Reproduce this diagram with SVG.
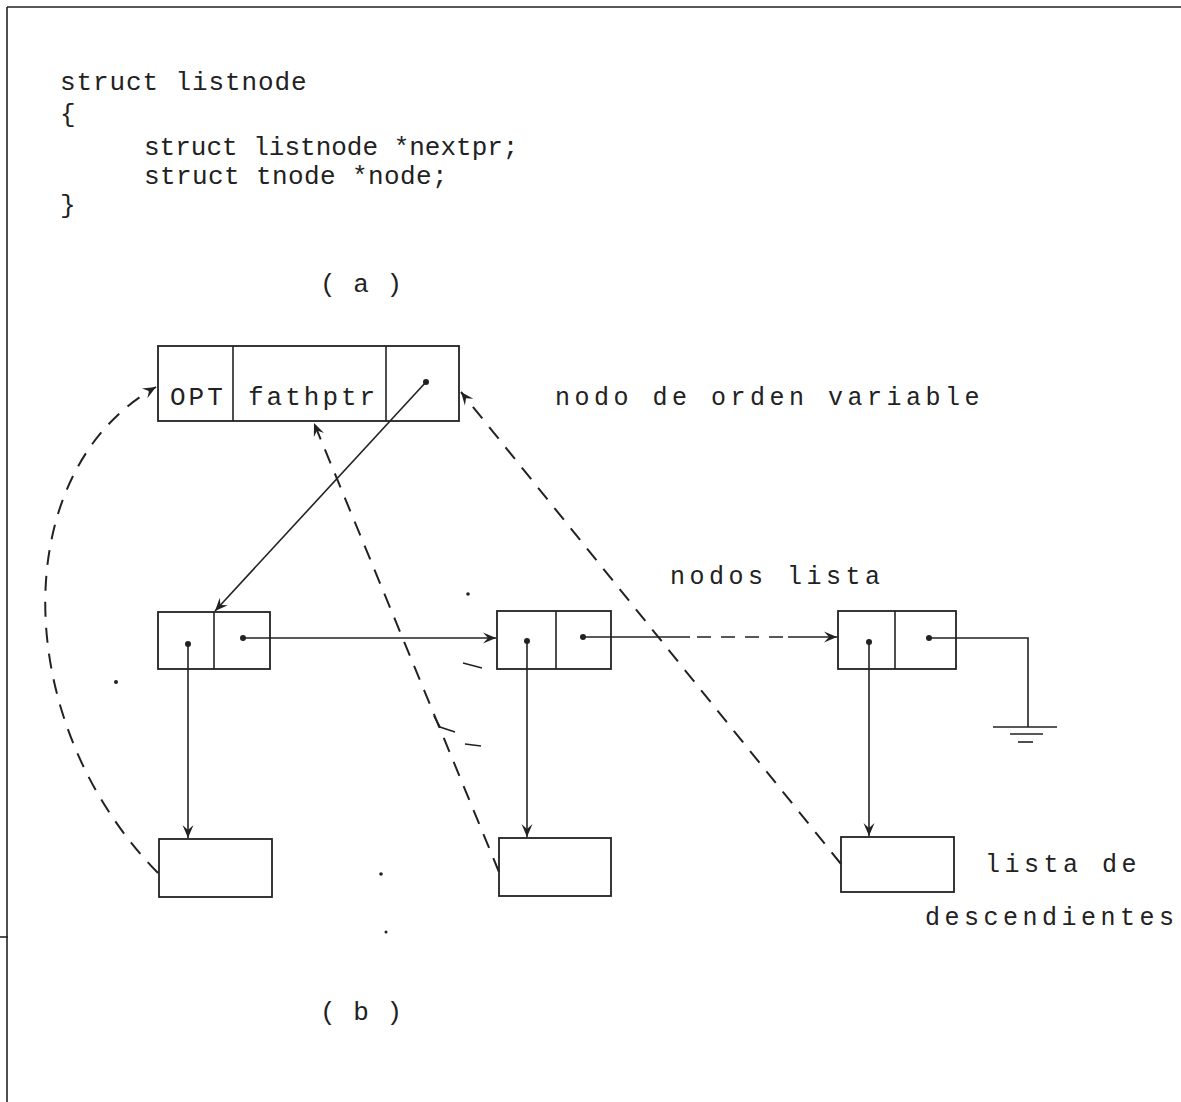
<svg xmlns="http://www.w3.org/2000/svg" width="1181" height="1102" viewBox="0 0 1181 1102">
<defs>
<style>
.code{font-family:"Liberation Mono","DejaVu Sans Mono",monospace;font-size:26px;fill:#222}
.lbl{font-family:"Liberation Mono","DejaVu Sans Mono",monospace;font-size:25px;fill:#222;letter-spacing:4.5px}
.cell{font-family:"Liberation Mono","DejaVu Sans Mono",monospace;font-size:26px;fill:#222;letter-spacing:3px}
.box{fill:#fff;stroke:#222;stroke-width:1.8}
.ln{fill:none;stroke:#222;stroke-width:1.6}
.dash{fill:none;stroke:#222;stroke-width:2;stroke-dasharray:15 11}
.dot{fill:#222}
</style>
<marker id="ah" viewBox="-14 -7 16 14" refX="0" refY="0" markerWidth="16" markerHeight="14" markerUnits="userSpaceOnUse" orient="auto">
<path d="M0,0 L-13,-5.5 L-8,0 L-13,5.5 Z" fill="#222"/>
</marker>
</defs>
<rect width="1181" height="1102" fill="#fff"/>
<g id="border">
<line x1="7" y1="7" x2="1181" y2="7" class="ln" stroke-width="1.4"/>
<line x1="7" y1="7" x2="7" y2="1102" class="ln" stroke-width="2"/>
<line x1="0" y1="937" x2="8" y2="937" class="ln" stroke-width="2"/>
</g>
<g id="code">
<text class="code" x="60" y="90" letter-spacing="0.9">struct listnode</text>
<text class="code" x="60" y="122">{</text>
<text class="code" x="144" y="155" letter-spacing="0">struct listnode *nextpr;</text>
<text class="code" x="144" y="184" letter-spacing="0.4">struct tnode *node;</text>
<text class="code" x="60" y="213">}</text>
<text class="code" x="320" y="292" letter-spacing="1">( a )</text>
</g>
<g id="node-var">
<rect class="box" x="158" y="346" width="301" height="75"/>
<line class="ln" x1="233" y1="346" x2="233" y2="421"/>
<line class="ln" x1="386" y1="346" x2="386" y2="421"/>
<text class="cell" x="170" y="405">OPT</text>
<text class="cell" x="248" y="405">fathptr</text>
<circle class="dot" cx="426" cy="382" r="3"/>
</g>
<g id="label-var"><text class="lbl" x="555" y="405">nodo de orden variable</text></g>
<g id="label-list"><text class="lbl" x="670" y="584">nodos lista</text></g>
<g id="list1">
<rect class="box" x="158" y="612" width="112" height="57"/>
<line class="ln" x1="214" y1="612" x2="214" y2="669"/>
<circle class="dot" cx="188" cy="644" r="3"/>
<circle class="dot" cx="243" cy="638" r="3"/>
</g>
<g id="list2">
<rect class="box" x="497" y="611" width="114" height="58"/>
<line class="ln" x1="556" y1="611" x2="556" y2="669"/>
<circle class="dot" cx="527" cy="641" r="3"/>
<circle class="dot" cx="583" cy="637" r="3"/>
</g>
<g id="list3">
<rect class="box" x="838" y="611" width="118" height="58"/>
<line class="ln" x1="895" y1="611" x2="895" y2="669"/>
<circle class="dot" cx="869" cy="642" r="3"/>
<circle class="dot" cx="929" cy="638" r="3"/>
</g>
<g id="desc1"><rect class="box" x="159" y="839" width="113" height="58"/></g>
<g id="desc2"><rect class="box" x="499" y="838" width="112" height="58"/></g>
<g id="desc3"><rect class="box" x="841" y="837" width="113" height="55"/></g>
<g id="label-desc">
<text class="lbl" x="985" y="872">lista de</text>
<text class="lbl" x="925" y="925">descendientes</text>
</g>
<g id="ground">
<line class="ln" x1="993" y1="727" x2="1057" y2="727"/>
<line class="ln" x1="1010" y1="734" x2="1043" y2="734"/>
<line class="ln" x1="1018" y1="742" x2="1033" y2="742"/>
</g>
<g id="caption-b"><text class="code" x="320" y="1020" letter-spacing="1">( b )</text></g>
<g id="connectors">
<line class="ln" x1="426" y1="382" x2="215" y2="611" marker-end="url(#ah)"/>
<line class="ln" x1="243" y1="638" x2="496" y2="638" marker-end="url(#ah)"/>
<line class="ln" x1="583" y1="637" x2="690" y2="637"/>
<line class="ln" x1="697" y1="637" x2="788" y2="637" stroke-dasharray="14 10"/>
<line class="ln" x1="788" y1="637" x2="837" y2="637" marker-end="url(#ah)"/>
<polyline class="ln" points="929,638 1028,638 1028,727"/>
<line class="ln" x1="188" y1="644" x2="188" y2="838" marker-end="url(#ah)"/>
<line class="ln" x1="527" y1="641" x2="527" y2="837" marker-end="url(#ah)"/>
<line class="ln" x1="869" y1="642" x2="869" y2="836" marker-end="url(#ah)"/>
<path class="dash" d="M158,873 C8,720 8,470 156,387" marker-end="url(#ah)"/>
<line class="dash" x1="499" y1="872" x2="314" y2="423" marker-end="url(#ah)"/>
<line class="dash" x1="841" y1="864" x2="461" y2="392" marker-end="url(#ah)"/>
<line class="ln" stroke-width="3" x1="463" y1="663" x2="482" y2="668"/>
<polyline class="ln" stroke-width="2.2" points="434,716 440,727 455,732"/>
<line class="ln" stroke-width="2.2" x1="465" y1="744" x2="481" y2="746"/>
</g>
<g id="specks">
<circle class="dot" cx="116" cy="682" r="2"/>
<circle class="dot" cx="468" cy="594" r="1.8"/>
<circle class="dot" cx="381" cy="874" r="1.8"/>
<circle class="dot" cx="386" cy="932" r="1.5"/>
</g>
</svg>
